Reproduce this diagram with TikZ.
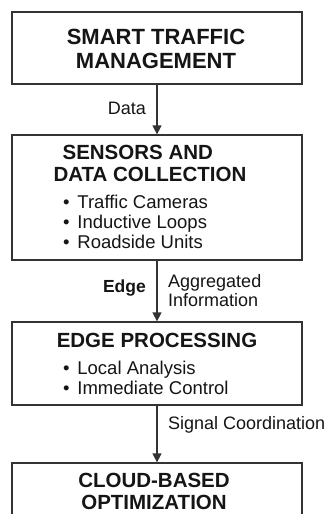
\documentclass[tikz,border=0pt]{standalone}
\usepackage{fontspec}
\setmainfont{Liberation Sans}
\usetikzlibrary{arrows.meta}
\definecolor{linec}{HTML}{333333}
\definecolor{textc}{HTML}{151515}
\newcommand{\itm}{•\hspace{0.42em}}
\tikzset{
  box/.style={draw=linec, line width=1.3pt, minimum width=290pt, inner sep=0pt},
  bigtitle/.style={text=textc, align=center, font=\fontsize{22}{24}\selectfont\bfseries},
  boxtitle/.style={text=textc, align=center, font=\fontsize{20.5}{22}\selectfont\bfseries},
  items/.style={text=textc, align=left, anchor=west, inner sep=0pt, font=\fontsize{18.5}{20}\selectfont},
  lbl/.style={text=textc, inner sep=0pt, font=\fontsize{18}{19}\selectfont},
  arr/.style={draw=linec, line width=1.3pt, -{Triangle[width=9pt,length=9pt]}}
}
\begin{document}
\begin{tikzpicture}[x=1pt,y=-1pt]
\useasboundingbox (0,0) rectangle (327,514);
\clip (0,0) rectangle (327,514);
\fill[white] (0,0) rectangle (327,514);

% boxes
\node[box, minimum height=72pt] (stm) at (157,48) {};
\node[box, minimum height=125pt] (sdc) at (157,197.5) {};
\node[box, minimum height=83pt] (edp) at (157,363.5) {};
\node[box, minimum height=100pt] (cbo) at (157,513) {};

% box contents
\node[bigtitle] (stmt) at (156,49) {SMART TRAFFIC\\MANAGEMENT};
\node[boxtitle, align=left] (sdct) at (150,163) {\hspace{9pt}SENSORS AND\\DATA COLLECTION};
\node[items] (sdci) at (63,222) {\itm Traffic Cameras\\\itm Inductive Loops\\\itm Roadside Units};
\node[boxtitle] (edpt) at (157,340) {EDGE PROCESSING};
\node[items] (edpi) at (63,377.5) {\itm Local Analysis\\\itm Immediate Control};
\node[boxtitle] (cbot) at (154,491) {CLOUD-BASED\\OPTIMIZATION};

% connectors
\draw[arr] (stm.south) -- (sdc.north);
\draw[arr] (sdc.south) -- (edp.north);
\draw[arr] (edp.south) -- (cbo.north);

% connector labels
\node[lbl, anchor=east] (ldata) at (146,108) {Data};
\node[lbl, anchor=east, font=\fontsize{17.5}{19}\selectfont\bfseries] (ledge) at (146,288) {Edge};
\node[lbl, anchor=west, align=left] (lagg) at (168,290.5) {Aggregated\\Information};
\node[lbl, anchor=west] (lsig) at (168,425) {Signal Coordination};
\end{tikzpicture}
\end{document}
